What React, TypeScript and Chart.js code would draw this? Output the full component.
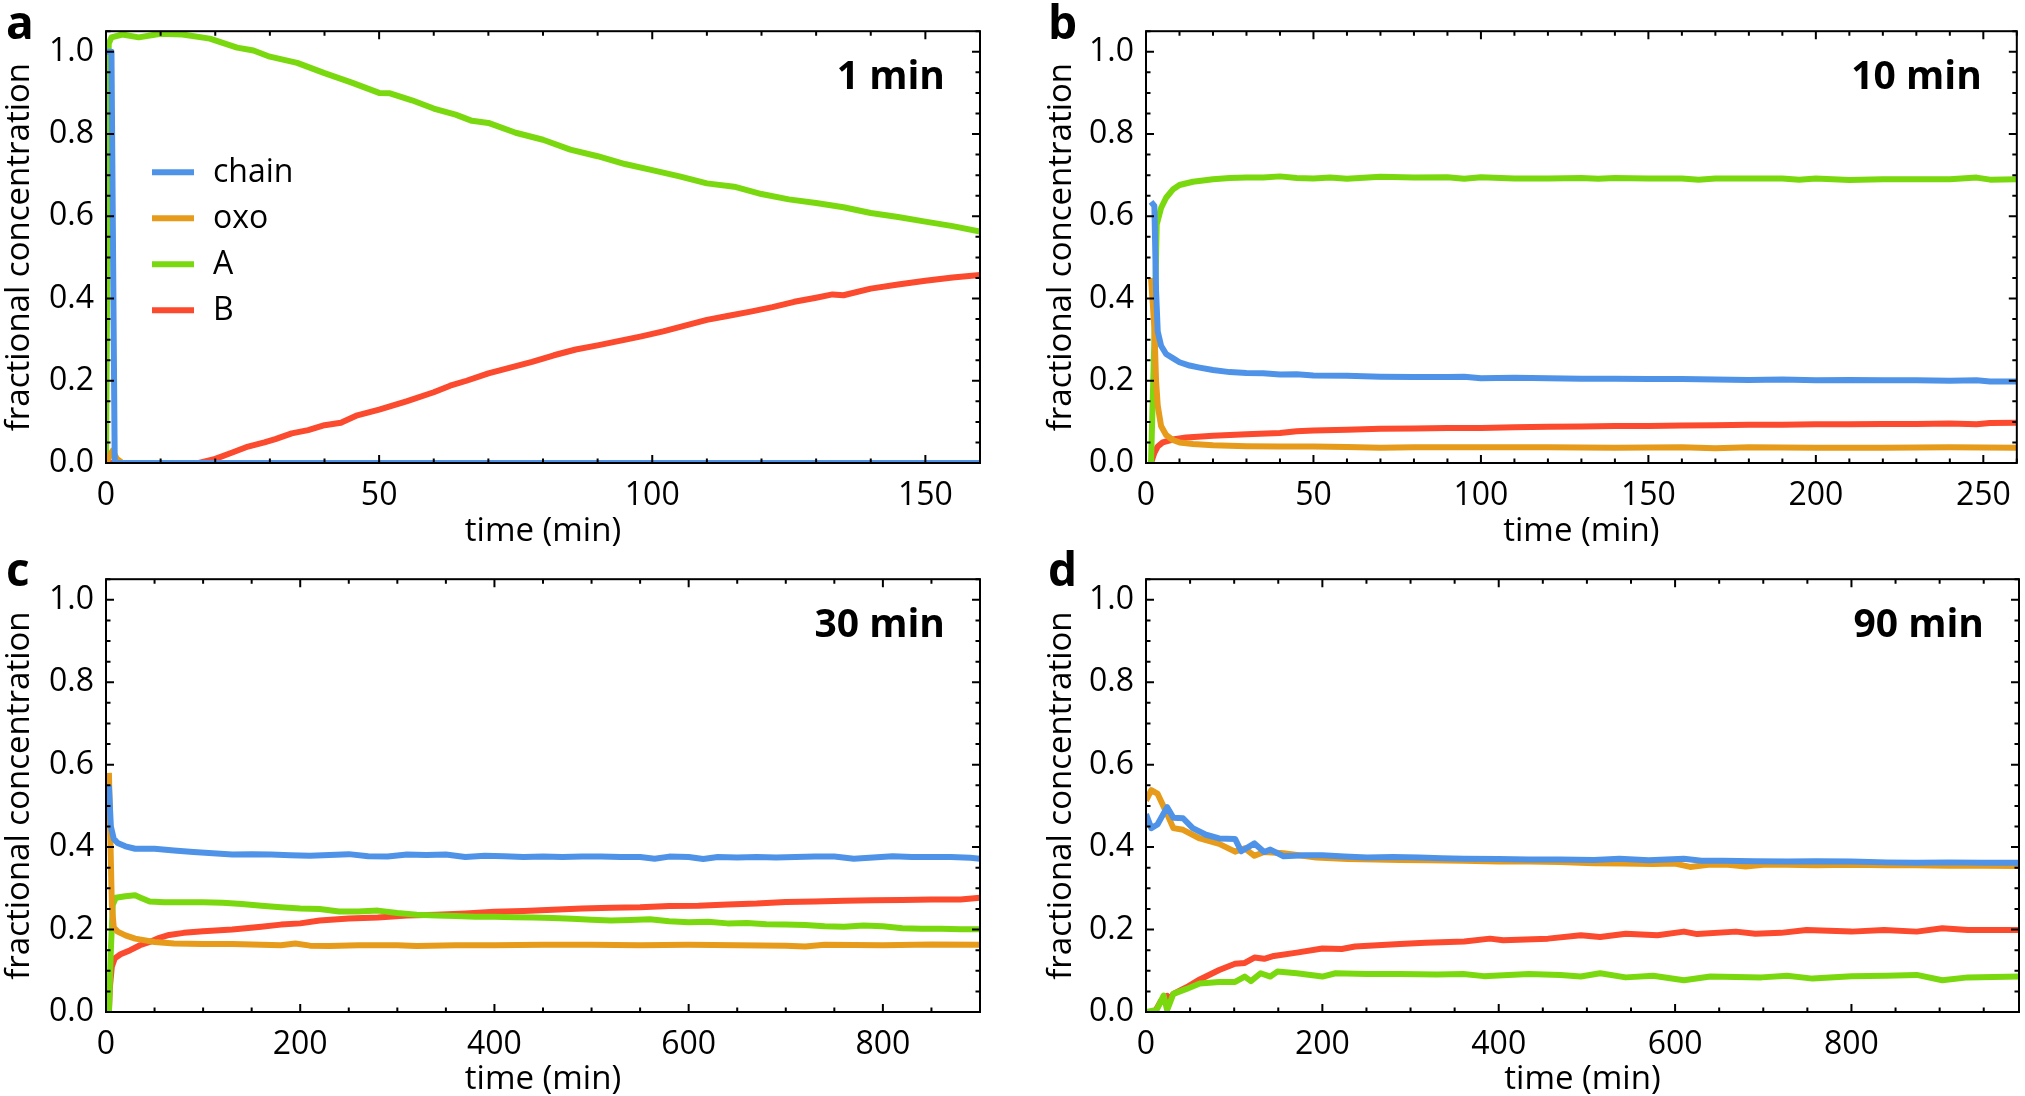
import React, { useEffect, useRef } from "react";
import { Chart, registerables } from "chart.js";

Chart.register(...registerables);

type Pt = [number, number];

const SERIES_NAMES = ["chain", "oxo", "A", "B"];
const SERIES_COLORS = ["#4f93e8", "#e69b1b", "#7ad80e", "#fb4a2e"];
const Y_TICKS = [0, 0.2, 0.4, 0.6, 0.8, 1.0];
const Y_TICKS_MINOR = 0.05;
const Y_MAX = 1.05;

const aXTicks = [0, 50, 100, 150];
const bXTicks = [0, 50, 100, 150, 200, 250];
const cXTicks = [0, 200, 400, 600, 800];
const dXTicks = [0, 200, 400, 600, 800];

// panel a: 1 min
const aChain: Pt[] = [[0, 1.0], [1, 1.0], [1.6, 0], [160, 0]];
const aOxo: Pt[] = [[0, 0], [1.2, 0.03], [2, 0.01], [3, 0], [160, 0]];
const aA: Pt[] = [
  [0, 0], [0.5, 1.02], [1, 1.035], [3, 1.042], [6, 1.035], [10, 1.044], [14, 1.042], [19, 1.032],
  [24, 1.01], [27, 1.003], [30, 0.988], [35, 0.973], [40, 0.948], [45, 0.925], [50, 0.9],
  [52, 0.899], [56, 0.882], [60, 0.862], [64, 0.847], [67, 0.832], [70, 0.827], [75, 0.803],
  [80, 0.786], [85, 0.762], [90, 0.746], [95, 0.727], [100, 0.712], [105, 0.697], [110, 0.68],
  [115, 0.672], [120, 0.654], [125, 0.641], [130, 0.632], [135, 0.622], [140, 0.608],
  [145, 0.598], [150, 0.587], [155, 0.576], [160, 0.563],
];
const aB: Pt[] = [
  [0, 0], [17, 0], [20, 0.01], [23, 0.025], [26, 0.04], [29, 0.05], [31, 0.058], [34, 0.072],
  [37, 0.08], [40, 0.092], [43, 0.098], [46, 0.116], [50, 0.13], [55, 0.15], [60, 0.172],
  [63, 0.188], [66, 0.2], [70, 0.218], [74, 0.232], [78, 0.246], [82, 0.262], [86, 0.276],
  [90, 0.286], [94, 0.297], [98, 0.308], [102, 0.32], [106, 0.334], [110, 0.348], [114, 0.358],
  [118, 0.368], [122, 0.379], [126, 0.392], [130, 0.402], [133, 0.41], [135, 0.408],
  [140, 0.424], [145, 0.434], [150, 0.443], [155, 0.451], [160, 0.457],
];

// panel b: 10 min
const bChain: Pt[] = [
  [1.5, 0.635], [2.5, 0.625], [3, 0.42], [3.5, 0.32], [4.5, 0.285], [6, 0.265], [8, 0.255],
  [10, 0.245], [13, 0.237], [16, 0.232], [20, 0.226], [25, 0.221], [30, 0.219], [35, 0.218],
  [40, 0.215], [45, 0.216], [50, 0.213], [60, 0.212], [70, 0.21], [80, 0.209], [90, 0.209],
  [95, 0.21], [100, 0.206], [110, 0.207], [120, 0.206], [130, 0.205], [140, 0.205],
  [150, 0.204], [160, 0.204], [170, 0.203], [180, 0.202], [190, 0.203], [200, 0.201],
  [210, 0.202], [220, 0.201], [230, 0.201], [240, 0.2], [248, 0.201], [252, 0.198], [260, 0.198],
];
const bOxo: Pt[] = [
  [1.5, 0.45], [2.5, 0.33], [3, 0.2], [3.5, 0.14], [4.5, 0.09], [6, 0.068], [8, 0.056],
  [10, 0.05], [14, 0.046], [20, 0.043], [30, 0.041], [40, 0.04], [50, 0.04], [60, 0.039],
  [70, 0.037], [80, 0.038], [90, 0.038], [100, 0.038], [120, 0.038], [140, 0.037],
  [160, 0.038], [170, 0.036], [180, 0.038], [200, 0.037], [220, 0.037], [240, 0.038], [260, 0.037],
];
const bA: Pt[] = [
  [1.5, 0], [2.5, 0.3], [3.2, 0.58], [4.5, 0.62], [6, 0.645], [8, 0.665], [10, 0.676],
  [14, 0.684], [20, 0.69], [25, 0.693], [30, 0.694], [35, 0.694], [40, 0.697], [45, 0.693],
  [50, 0.692], [55, 0.694], [60, 0.691], [70, 0.696], [80, 0.694], [90, 0.695], [95, 0.691],
  [100, 0.695], [110, 0.692], [120, 0.692], [130, 0.693], [135, 0.691], [140, 0.693],
  [150, 0.692], [160, 0.692], [165, 0.689], [170, 0.692], [180, 0.692], [190, 0.692],
  [195, 0.689], [200, 0.692], [210, 0.688], [220, 0.69], [230, 0.69], [240, 0.69],
  [248, 0.694], [252, 0.689], [260, 0.69],
];
const bB: Pt[] = [
  [1.5, 0], [2.5, 0.025], [3.5, 0.04], [5, 0.05], [8, 0.057], [12, 0.062], [20, 0.066],
  [30, 0.07], [40, 0.073], [45, 0.077], [50, 0.079], [60, 0.081], [70, 0.083], [80, 0.084],
  [90, 0.085], [100, 0.085], [110, 0.087], [120, 0.088], [130, 0.089], [140, 0.09], [150, 0.09],
  [160, 0.091], [170, 0.092], [180, 0.093], [190, 0.093], [200, 0.094], [210, 0.094],
  [220, 0.095], [230, 0.095], [240, 0.096], [248, 0.094], [252, 0.097], [260, 0.098],
];

// panel c: 30 min
const cChain: Pt[] = [
  [3, 0.55], [5, 0.45], [8, 0.42], [12, 0.41], [20, 0.402], [30, 0.396], [50, 0.396],
  [70, 0.392], [90, 0.388], [110, 0.385], [130, 0.382], [150, 0.383], [170, 0.382], [190, 0.38],
  [210, 0.379], [230, 0.381], [250, 0.383], [270, 0.378], [290, 0.377], [310, 0.382],
  [330, 0.381], [350, 0.382], [370, 0.376], [390, 0.379], [410, 0.378], [430, 0.376],
  [450, 0.377], [470, 0.376], [490, 0.377], [510, 0.377], [530, 0.376], [550, 0.376],
  [565, 0.372], [580, 0.377], [600, 0.376], [615, 0.371], [630, 0.376], [650, 0.375],
  [670, 0.376], [690, 0.375], [710, 0.376], [730, 0.377], [750, 0.377], [770, 0.372],
  [790, 0.375], [810, 0.378], [830, 0.376], [850, 0.376], [870, 0.376], [890, 0.374], [900, 0.372],
];
const cOxo: Pt[] = [
  [3, 0.58], [4.5, 0.42], [6, 0.26], [8, 0.205], [12, 0.195], [20, 0.186], [30, 0.178],
  [50, 0.17], [70, 0.166], [100, 0.165], [130, 0.165], [160, 0.163], [180, 0.162], [195, 0.166],
  [210, 0.161], [230, 0.16], [260, 0.162], [300, 0.162], [320, 0.16], [360, 0.162], [400, 0.162],
  [450, 0.163], [500, 0.163], [550, 0.162], [600, 0.163], [650, 0.162], [700, 0.161],
  [720, 0.159], [740, 0.163], [800, 0.162], [850, 0.164], [900, 0.163],
];
const cA: Pt[] = [
  [3, 0], [5, 0.15], [7, 0.26], [10, 0.277], [20, 0.281], [30, 0.283], [35, 0.278], [45, 0.268],
  [60, 0.266], [80, 0.266], [100, 0.266], [120, 0.265], [140, 0.262], [160, 0.258], [180, 0.254],
  [200, 0.251], [220, 0.25], [240, 0.244], [260, 0.244], [280, 0.246], [300, 0.24], [320, 0.236],
  [340, 0.234], [360, 0.233], [380, 0.231], [400, 0.231], [420, 0.23], [440, 0.229],
  [460, 0.228], [480, 0.226], [500, 0.224], [520, 0.222], [540, 0.223], [560, 0.225],
  [580, 0.22], [600, 0.218], [620, 0.219], [640, 0.215], [660, 0.216], [680, 0.213],
  [700, 0.212], [720, 0.211], [740, 0.208], [760, 0.207], [780, 0.21], [800, 0.208],
  [820, 0.203], [840, 0.202], [860, 0.202], [880, 0.201], [900, 0.201],
];
const cB: Pt[] = [
  [3, 0], [4, 0.06], [6, 0.11], [9, 0.13], [15, 0.14], [25, 0.15], [35, 0.162], [45, 0.17],
  [55, 0.18], [65, 0.187], [80, 0.192], [100, 0.196], [130, 0.2], [160, 0.207], [180, 0.212],
  [200, 0.215], [220, 0.222], [250, 0.227], [280, 0.229], [310, 0.234], [340, 0.236],
  [370, 0.239], [400, 0.243], [430, 0.245], [460, 0.248], [490, 0.251], [520, 0.253],
  [550, 0.254], [580, 0.257], [610, 0.258], [640, 0.261], [670, 0.263], [700, 0.267],
  [730, 0.268], [760, 0.27], [790, 0.271], [820, 0.272], [850, 0.273], [880, 0.273], [900, 0.277],
];

// panel d: 90 min
const dChain: Pt[] = [
  [0, 0.48], [6, 0.446], [13, 0.455], [24, 0.497], [31, 0.471], [42, 0.47], [53, 0.446],
  [68, 0.43], [83, 0.421], [101, 0.42], [108, 0.39], [123, 0.409], [134, 0.388], [141, 0.394],
  [156, 0.378], [180, 0.38], [200, 0.38], [225, 0.377], [251, 0.375], [280, 0.376], [310, 0.375],
  [335, 0.373], [361, 0.372], [400, 0.371], [434, 0.37], [470, 0.37], [508, 0.369], [537, 0.372],
  [570, 0.368], [610, 0.372], [630, 0.367], [654, 0.367], [690, 0.366], [727, 0.365],
  [760, 0.366], [800, 0.365], [840, 0.363], [874, 0.362], [910, 0.363], [950, 0.362], [990, 0.362],
];
const dOxo: Pt[] = [
  [0, 0.513], [6, 0.538], [13, 0.53], [24, 0.48], [31, 0.446], [42, 0.442], [61, 0.421],
  [83, 0.408], [101, 0.389], [112, 0.397], [123, 0.379], [134, 0.388], [156, 0.385],
  [193, 0.375], [229, 0.371], [260, 0.37], [288, 0.369], [320, 0.368], [361, 0.367],
  [400, 0.365], [434, 0.365], [470, 0.364], [508, 0.361], [540, 0.36], [575, 0.359], [600, 0.36],
  [617, 0.352], [640, 0.358], [660, 0.357], [680, 0.353], [700, 0.357], [727, 0.357],
  [760, 0.356], [800, 0.357], [840, 0.356], [874, 0.356], [910, 0.355], [950, 0.355], [990, 0.354],
];
const dA: Pt[] = [
  [0, 0], [12, 0.005], [17, 0.027], [20, 0.04], [24, 0.005], [31, 0.044], [46, 0.056],
  [61, 0.069], [83, 0.073], [101, 0.073], [112, 0.086], [119, 0.075], [130, 0.094], [141, 0.086],
  [149, 0.098], [171, 0.094], [200, 0.086], [215, 0.094], [250, 0.092], [288, 0.092],
  [330, 0.091], [360, 0.092], [383, 0.087], [434, 0.092], [470, 0.09], [493, 0.086],
  [515, 0.094], [544, 0.084], [575, 0.088], [610, 0.077], [640, 0.086], [698, 0.084],
  [727, 0.088], [756, 0.081], [800, 0.087], [840, 0.088], [874, 0.09], [903, 0.077],
  [932, 0.084], [990, 0.086],
];
const dB: Pt[] = [
  [0, 0], [10, 0], [17, 0.027], [24, 0.039], [27, 0.03], [31, 0.044], [46, 0.06], [61, 0.079],
  [83, 0.102], [101, 0.117], [112, 0.119], [123, 0.132], [134, 0.129], [145, 0.136],
  [171, 0.144], [200, 0.154], [222, 0.153], [237, 0.159], [288, 0.165], [317, 0.168],
  [361, 0.171], [390, 0.178], [405, 0.174], [456, 0.178], [493, 0.186], [515, 0.182],
  [544, 0.19], [580, 0.186], [610, 0.195], [625, 0.189], [669, 0.195], [691, 0.19],
  [720, 0.192], [749, 0.199], [800, 0.195], [837, 0.199], [874, 0.195], [903, 0.203],
  [932, 0.199], [990, 0.199],
];

const FONT = "'Open Sans', 'Noto Sans', sans-serif";
Chart.defaults.font.family = FONT;
Chart.defaults.color = "#000";

// frame with inward ticks on all sides, panel letter, duration label, legend
const decorPlugin = {
  id: "decor",
  afterDatasetsDraw(chart: any, _args: any, opts: any) {
    const { ctx, chartArea: area, scales } = chart;
    const xs = scales.x;
    const ys = scales.y;
    const isMajor = (v: number, list: number[]) => list.some((m) => Math.abs(m - v) < 1e-6);
    ctx.save();
    ctx.strokeStyle = "#000";
    ctx.lineWidth = 2;
    ctx.lineCap = "butt";
    ctx.beginPath();
    const nx = Math.floor(xs.max / opts.xMinor + 1e-6);
    for (let i = 0; i <= nx; i++) {
      const v = i * opts.xMinor;
      const len = isMajor(v, opts.xTicks) ? 8 : 4.5;
      const px = xs.getPixelForValue(v);
      ctx.moveTo(px, area.bottom);
      ctx.lineTo(px, area.bottom - len);
      ctx.moveTo(px, area.top);
      ctx.lineTo(px, area.top + len);
    }
    const ny = Math.floor(Y_MAX / Y_TICKS_MINOR + 1e-6);
    for (let i = 0; i <= ny; i++) {
      const v = i * Y_TICKS_MINOR;
      const len = isMajor(v, Y_TICKS) ? 8 : 4.5;
      const py = ys.getPixelForValue(v);
      ctx.moveTo(area.left, py);
      ctx.lineTo(area.left + len, py);
      ctx.moveTo(area.right, py);
      ctx.lineTo(area.right - len, py);
    }
    ctx.stroke();
    ctx.strokeRect(area.left, area.top, area.right - area.left, area.bottom - area.top);

    ctx.fillStyle = "#000";
    ctx.textBaseline = "alphabetic";
    ctx.textAlign = "left";
    ctx.font = `bold 46px ${FONT}`;
    ctx.fillText(opts.letter, opts.letterX, opts.letterY);

    ctx.textAlign = "right";
    ctx.font = `bold 39px ${FONT}`;
    ctx.fillText(opts.label, area.right - 35, area.top + 58);

    if (opts.legend) {
      ctx.font = `32px ${FONT}`;
      ctx.textAlign = "left";
      ctx.textBaseline = "middle";
      chart.data.datasets.forEach((ds: any, i: number) => {
        const y = area.top + 141 + i * 46;
        ctx.strokeStyle = ds.borderColor;
        ctx.lineWidth = 6;
        ctx.beginPath();
        ctx.moveTo(area.left + 46, y);
        ctx.lineTo(area.left + 88, y);
        ctx.stroke();
        ctx.fillText(ds.label, area.left + 107, y + 1);
      });
    }
    ctx.restore();
  },
};

type PanelProps = {
  series: Pt[][];
  xMax: number;
  xTicks: number[];
  xMinor: number;
  letter: string;
  label: string;
  col: number;
  row: number;
  legend?: boolean;
};

const Panel: React.FC<PanelProps> = ({ series, xMax, xTicks, xMinor, letter, label, col, row, legend }) => {
  const canvasRef = useRef<HTMLCanvasElement | null>(null);
  const width = col === 0 ? 1012 : 1013;
  const height = 548;

  useEffect(() => {
    if (!canvasRef.current) return;
    const chart = new Chart(canvasRef.current, {
      type: "line",
      data: {
        datasets: series.map((pts, i) => ({
          label: SERIES_NAMES[i],
          data: pts.map(([x, y]) => ({ x, y })),
          borderColor: SERIES_COLORS[i],
          backgroundColor: SERIES_COLORS[i],
          borderWidth: 6,
          borderJoinStyle: "round",
          pointRadius: 0,
          tension: 0,
          fill: false,
        })),
      },
      options: {
        animation: false,
        responsive: false,
        devicePixelRatio: 1,
        layout: {
          padding: {
            top: row === 0 ? 27 : 28,
            right: col === 0 ? 32 : 6,
            left: col === 0 ? 0 : 30,
            bottom: 0,
          },
        },
        plugins: {
          legend: { display: false },
          tooltip: { enabled: false },
          decor: {
            xTicks,
            xMinor,
            letter,
            label,
            legend: !!legend,
            letterX: col === 0 ? 6 : 36,
            letterY: row === 0 ? 39 : 38,
          },
        } as any,
        scales: {
          x: {
            type: "linear",
            min: 0,
            max: xMax,
            grid: { display: false, drawTicks: false },
            border: { display: false },
            afterBuildTicks: (s: any) => {
              s.ticks = xTicks.map((v) => ({ value: v }));
            },
            ticks: {
              padding: 14,
              maxRotation: 0,
              autoSkip: false,
              font: { size: 32 },
              color: "#000",
            },
            title: {
              display: true,
              text: "time (min)",
              font: { size: 33, lineHeight: 1 },
              color: "#000",
              padding: 0,
            },
            afterFit: (s: any) => {
              s.height = row === 0 ? 85 : 84;
            },
          },
          y: {
            type: "linear",
            min: 0,
            max: Y_MAX,
            grid: { display: false, drawTicks: false },
            border: { display: false },
            afterBuildTicks: (s: any) => {
              s.ticks = Y_TICKS.map((v) => ({ value: v }));
            },
            ticks: {
              padding: 12,
              autoSkip: false,
              font: { size: 32 },
              color: "#000",
              callback: (v: any) => Number(v).toFixed(1),
            },
            title: {
              display: true,
              text: "fractional concentration",
              font: { size: 33 },
              color: "#000",
              padding: 0,
            },
            afterFit: (s: any) => {
              s.width = col === 0 ? 106 : 104;
            },
          },
        },
      },
      plugins: [decorPlugin],
    });
    return () => {
      chart.destroy();
    };
  }, []);

  return (
    <canvas
      ref={canvasRef}
      width={width}
      height={height}
      style={{
        position: "absolute",
        left: col === 0 ? 0 : 1012,
        top: row === 0 ? 0 : 548,
        width,
        height,
      }}
    />
  );
};

const App: React.FC = () => {
  return (
    <div style={{ position: "absolute", left: 0, top: 0, width: 2025, height: 1096, background: "#fff" }}>
      <Panel series={[aChain, aOxo, aA, aB]} xMax={160} xTicks={aXTicks} xMinor={10} letter="a" label="1 min" col={0} row={0} legend />
      <Panel series={[bChain, bOxo, bA, bB]} xMax={260} xTicks={bXTicks} xMinor={10} letter="b" label="10 min" col={1} row={0} />
      <Panel series={[cChain, cOxo, cA, cB]} xMax={900} xTicks={cXTicks} xMinor={50} letter="c" label="30 min" col={0} row={1} />
      <Panel series={[dChain, dOxo, dA, dB]} xMax={990} xTicks={dXTicks} xMinor={50} letter="d" label="90 min" col={1} row={1} />
    </div>
  );
};

export default App;
